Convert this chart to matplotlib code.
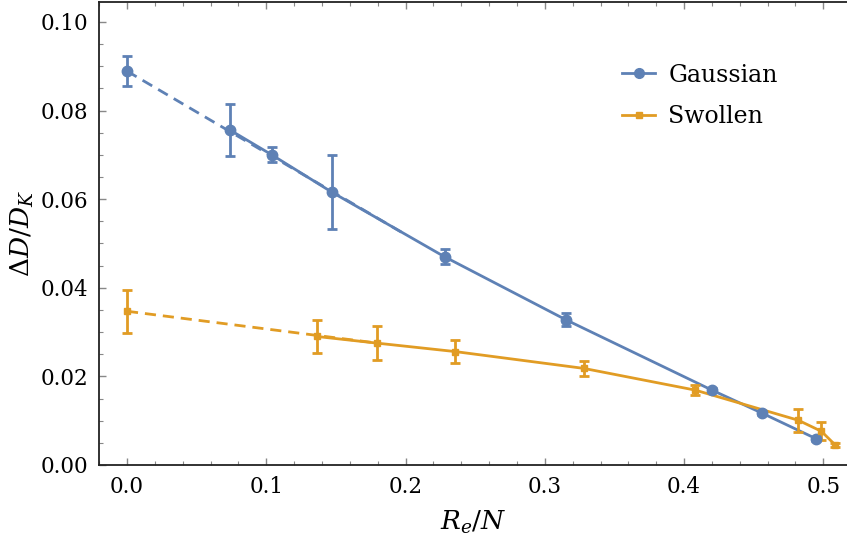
import numpy as np
import matplotlib
matplotlib.use('Agg')
import matplotlib.pyplot as plt
from matplotlib.ticker import MultipleLocator

plt.rcParams['font.family'] = 'DejaVu Serif'
plt.rcParams['mathtext.fontset'] = 'dejavuserif'

# Gaussian
gx = [0.0, 0.074, 0.104, 0.147, 0.228, 0.315, 0.420, 0.456, 0.495]
gy = [0.0889, 0.0756, 0.0700, 0.0616, 0.0470, 0.0328, 0.0169, 0.0117, 0.0059]
gerr = [0.0034, 0.0058, 0.0017, 0.0084, 0.0017, 0.0014, 0.0004, 0.0004, 0.0004]
g_fit_x = [0.0, 0.20]
g_fit_y = [0.0889, 0.0520]

# Swollen
sx = [0.0, 0.1365, 0.1796, 0.2356, 0.328, 0.408, 0.482, 0.4986, 0.5086]
sy = [0.0347, 0.0290, 0.0275, 0.0256, 0.0218, 0.0169, 0.0101, 0.0076, 0.0045]
serr = [0.0048, 0.0037, 0.0039, 0.0025, 0.0017, 0.0011, 0.0026, 0.0020, 0.0004]
s_fit_x = [0.0, 0.18]
s_fit_y = [0.0347, 0.0275]

blue = '#5E81B5'
orange = '#E19C24'

fig = plt.figure(figsize=(8.47, 5.46), dpi=100)
ax = fig.add_axes([0.1169, 0.1484, 0.8831, 0.8479])

ax.plot(g_fit_x, g_fit_y, '--', color=blue, lw=2, dashes=(4, 2.5))
ax.plot(s_fit_x, s_fit_y, '--', color=orange, lw=2, dashes=(4, 2.5))

ax.plot(gx[1:], gy[1:], '-', color=blue, lw=2)
ax.plot(sx[1:], sy[1:], '-', color=orange, lw=2)

ax.errorbar(gx, gy, yerr=gerr, fmt='o', color=blue, ms=7.5, elinewidth=2,
            capsize=3.5, capthick=2)
ax.errorbar(sx, sy, yerr=serr, fmt='s', color=orange, ms=5, elinewidth=2,
            capsize=3.5, capthick=2)

# legend entries
ax.plot([], [], '-o', color=blue, lw=2, ms=7, label='Gaussian')
ax.plot([], [], '-s', color=orange, lw=2, ms=5, label='Swollen')
h, l = ax.get_legend_handles_labels()
ax.legend(h, l, loc='center left', bbox_to_anchor=(0.684, 0.797), frameon=False,
          fontsize=17, handlelength=1.4, labelspacing=0.8, handletextpad=0.55,
          borderpad=0)

ax.set_xlim(-0.0201, 0.517)
ax.set_ylim(0.0, 0.1045)
ax.xaxis.set_major_locator(MultipleLocator(0.1))
ax.xaxis.set_minor_locator(MultipleLocator(0.02))
ax.yaxis.set_major_locator(MultipleLocator(0.02))
ax.yaxis.set_minor_locator(MultipleLocator(0.005))
ax.xaxis.set_major_formatter(plt.FuncFormatter(lambda v, p: f'{v:.1f}'))
ax.yaxis.set_major_formatter(plt.FuncFormatter(lambda v, p: f'{v:.2f}'))

ax.tick_params(which='both', direction='in', top=True, right=False,
               labelsize=15.5, color='#888888')
ax.tick_params(which='major', length=5, width=1, pad=8)
ax.tick_params(which='minor', length=3, width=0.8)
ax.spines['right'].set_visible(False)
for s in ['left', 'bottom', 'top']:
    ax.spines[s].set_linewidth(1.3)
    ax.spines[s].set_color('#222222')

ax.set_xlabel(r'$R_e/N$', fontsize=19, labelpad=8)
ax.set_ylabel(r'$\Delta D/D_K$', fontsize=19, labelpad=3)

fig.savefig('out.png', dpi=100)
